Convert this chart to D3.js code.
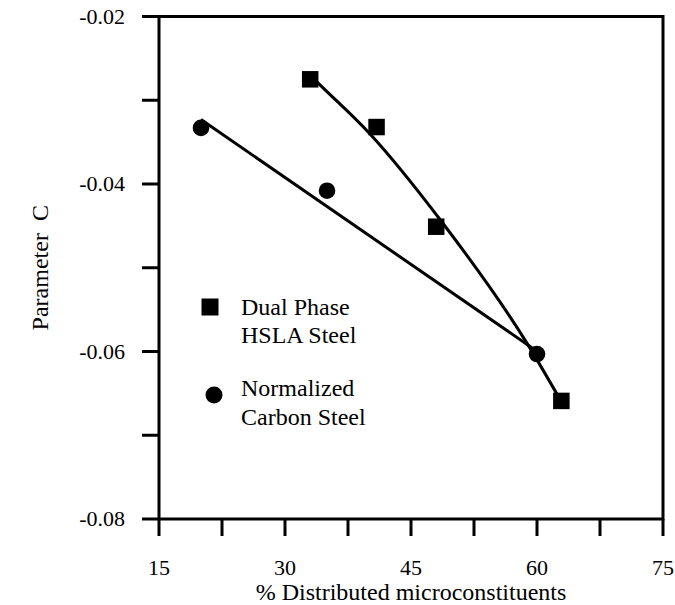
<!DOCTYPE html>
<html>
<head>
<meta charset="utf-8">
<script src="https://cdn.jsdelivr.net/npm/d3@7"></script>
<style>
body { margin: 0; background: #fff; }
text { font-family: "Liberation Serif", "Times New Roman", serif; fill: #000; }
</style>
</head>
<body>
<svg id="chart" width="675" height="605"></svg>
<script>
// data
var dualX = [33.0, 40.9, 48.0, 62.9];
var dualY = [-0.0275, -0.0332, -0.0451, -0.0659];
var normX = [20.0, 35.0, 60.0];
var normY = [-0.0333, -0.0408, -0.0603];

// fitted lines as drawn
var dualFitX = [33.2, 33.8, 40.1, 48.5, 58.8, 62.9];
var dualFitY = [-0.0272, -0.0278, -0.0340, -0.0443, -0.0590, -0.0660];
var normFitX = [20.0, 59.6];
var normFitY = [-0.0323, -0.0597];

var xTicks = [15, 22.5, 30, 37.5, 45, 52.5, 60, 67.5, 75];
var xLabels = [15, 30, 45, 60, 75];
var yTicks = [-0.02, -0.03, -0.04, -0.05, -0.06, -0.07, -0.08];
var yLabels = ["-0.02", "-0.04", "-0.06", "-0.08"];

var svg = d3.select("#chart");
var pLeft = 159, pRight = 663, pTop = 16.5, pBottom = 519;

var x = d3.scaleLinear().domain([15, 75]).range([pLeft, pRight]);
var y = d3.scaleLinear().domain([-0.08, -0.02]).range([pBottom, pTop]);

// frame
svg.append("rect")
	.attr("x", pLeft).attr("y", pTop)
	.attr("width", pRight - pLeft).attr("height", pBottom - pTop)
	.attr("fill", "none").attr("stroke", "#000").attr("stroke-width", 3);

// x ticks
svg.selectAll("line.xt").data(xTicks).enter().append("line")
	.attr("x1", function(d) { return x(d); })
	.attr("x2", function(d) { return x(d); })
	.attr("y1", pBottom).attr("y2", pBottom + 17)
	.attr("stroke", "#000").attr("stroke-width", 3);

svg.selectAll("text.xl").data(xLabels).enter().append("text")
	.attr("x", function(d) { return x(d); })
	.attr("y", 575)
	.attr("text-anchor", "middle")
	.attr("font-size", 22)
	.text(function(d) { return d; });

// y ticks
svg.selectAll("line.yt").data(yTicks).enter().append("line")
	.attr("x1", pLeft - 17).attr("x2", pLeft)
	.attr("y1", function(d) { return y(d); })
	.attr("y2", function(d) { return y(d); })
	.attr("stroke", "#000").attr("stroke-width", 3);

svg.selectAll("text.yl").data(yLabels).enter().append("text")
	.attr("x", 125)
	.attr("y", function(d) { return y(+d) + 7; })
	.attr("text-anchor", "end")
	.attr("font-size", 22)
	.text(function(d) { return d; });

// axis titles
svg.append("text")
	.attr("x", (pLeft + pRight) / 2).attr("y", 600)
	.attr("text-anchor", "middle")
	.attr("font-size", 24)
	.text("% Distributed microconstituents");

svg.append("text")
	.attr("transform", "translate(48," + ((pTop + pBottom) / 2) + ") rotate(-90)")
	.attr("text-anchor", "middle")
	.attr("font-size", 24)
	.style("white-space", "pre")
	.text("Parameter  C");

// fit lines
var line = d3.line()
	.x(function(d) { return x(d[0]); })
	.y(function(d) { return y(d[1]); });

svg.append("path")
	.datum(d3.zip(normFitX, normFitY))
	.attr("d", line)
	.attr("fill", "none").attr("stroke", "#000").attr("stroke-width", 3);

svg.append("path")
	.datum(d3.zip(dualFitX, dualFitY))
	.attr("d", line.curve(d3.curveMonotoneX))
	.attr("fill", "none").attr("stroke", "#000").attr("stroke-width", 3);

// markers
var sq = 16.5;
svg.selectAll("rect.dual").data(d3.zip(dualX, dualY)).enter().append("rect")
	.attr("x", function(d) { return x(d[0]) - sq / 2; })
	.attr("y", function(d) { return y(d[1]) - sq / 2; })
	.attr("width", sq).attr("height", sq)
	.attr("fill", "#000");

svg.selectAll("circle.norm").data(d3.zip(normX, normY)).enter().append("circle")
	.attr("cx", function(d) { return x(d[0]); })
	.attr("cy", function(d) { return y(d[1]); })
	.attr("r", 8.3)
	.attr("fill", "#000");

// legend
svg.append("rect")
	.attr("x", 210 - 8.5).attr("y", 307 - 8.5)
	.attr("width", 17).attr("height", 17)
	.attr("fill", "#000");
svg.append("text").attr("x", 241).attr("y", 315).attr("font-size", 24).text("Dual Phase");
svg.append("text").attr("x", 241).attr("y", 343).attr("font-size", 24).text("HSLA Steel");

svg.append("circle")
	.attr("cx", 214).attr("cy", 395).attr("r", 8.5)
	.attr("fill", "#000");
svg.append("text").attr("x", 241).attr("y", 396).attr("font-size", 24).text("Normalized");
svg.append("text").attr("x", 241).attr("y", 425).attr("font-size", 24).text("Carbon Steel");
</script>
</body>
</html>
